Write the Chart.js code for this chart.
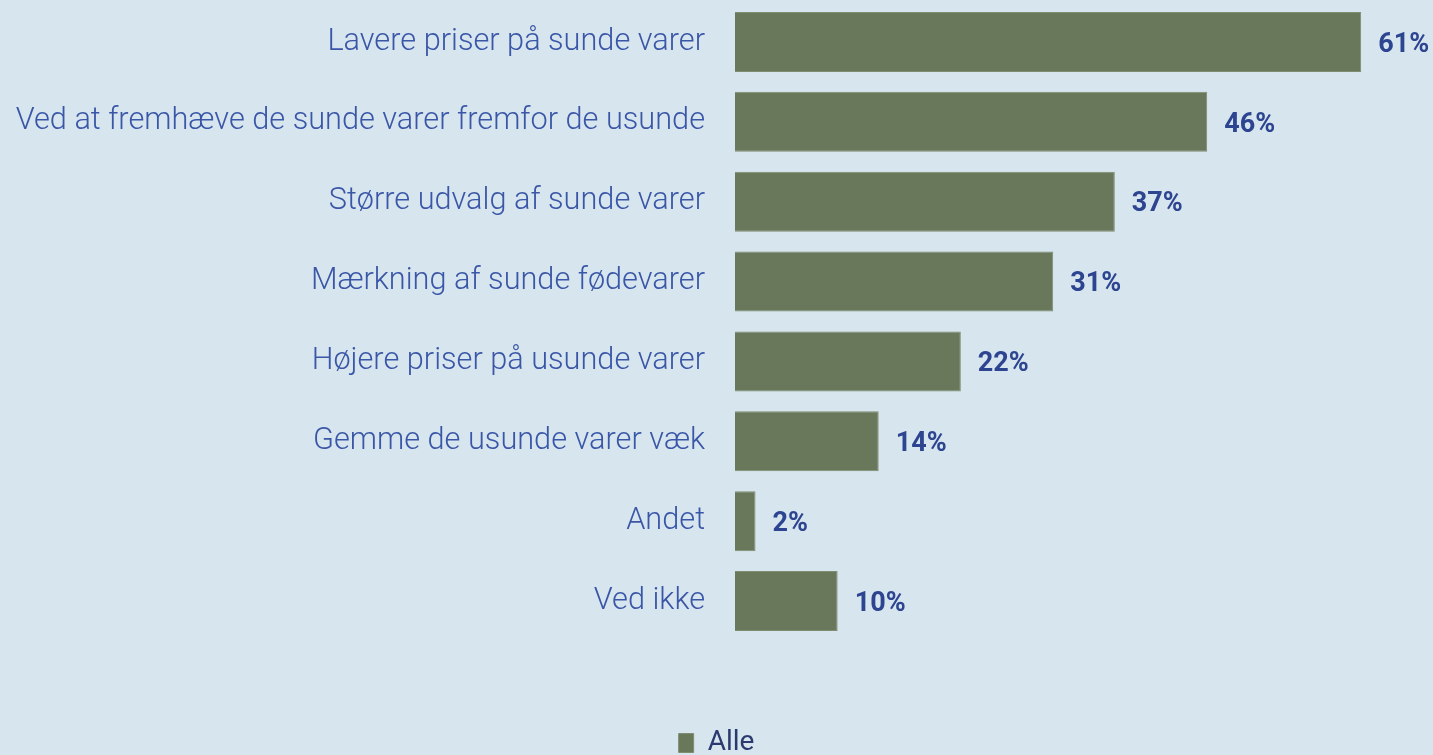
<!DOCTYPE html>
<html>
<head>
<meta charset="utf-8">
<script src="https://cdn.jsdelivr.net/npm/chart.js@4.4.1/dist/chart.umd.min.js"></script>
<style>
    html, body { margin: 0; padding: 0; background: #d7e5ef; }
    #wrap { width: 1433px; height: 755px; }
</style>
</head>
<body>
<div id="wrap">
    <canvas id="svarChart" width="1433" height="755"></canvas>
</div>

<script>
    // Kategorier og værdier (procent)
    var kategorier = [
        'Lavere priser på sunde varer',
        'Ved at fremhæve de sunde varer fremfor de usunde',
        'Større udvalg af sunde varer',
        'Mærkning af sunde fødevarer',
        'Højere priser på usunde varer',
        'Gemme de usunde varer væk',
        'Andet',
        'Ved ikke'
    ];
    var alleVaerdier = [61, 46, 37, 31, 22, 14, 2, 10];
    var serieNavn = 'Alle';

    // Plugin der skriver procenttallet til højre for hver søjle
    var vaerdiEtiketter = {
        id: 'vaerdiEtiketter',
        afterDatasetsDraw: function (chart) {
            var ctx = chart.ctx;
            var meta = chart.getDatasetMeta(0);
            ctx.save();
            ctx.fillStyle = '#2d4590';
            ctx.font = 'bold 27px Roboto';
            ctx.textAlign = 'left';
            ctx.textBaseline = 'middle';
            meta.data.forEach(function (bar, i) {
                ctx.fillText(alleVaerdier[i] + '%', bar.x + 17, bar.y + 3);
            });
            ctx.restore();
        }
    };

    var ctx = document.getElementById('svarChart').getContext('2d');
    var svarChart = new Chart(ctx, {
        type: 'bar',
        data: {
            labels: kategorier,
            datasets: [{
                label: serieNavn,
                data: alleVaerdier,
                backgroundColor: '#69775a',
                borderColor: '#7f8d70',
                borderWidth: 1,
                barPercentage: 1,
                categoryPercentage: 0.75
            }]
        },
        options: {
            indexAxis: 'y',
            responsive: false,
            animation: false,
            layout: {
                padding: { top: 2, left: 0, right: 0, bottom: -12 }
            },
            scales: {
                x: {
                    display: false,
                    min: 0,
                    max: 68
                },
                y: {
                    grid: { display: false },
                    border: { display: false },
                    ticks: {
                        color: '#3a56a6',
                        padding: 22,
                        font: { family: 'Roboto', weight: '300', size: 30.7 }
                    },
                    afterFit: function (scale) {
                        scale.width = 735;
                        // ingen ekstra luft over/under til etiketterne
                        scale.paddingTop = 0;
                        scale.paddingBottom = 0;
                    }
                }
            },
            plugins: {
                tooltip: { enabled: false },
                legend: {
                    position: 'bottom',
                    labels: {
                        color: '#2b3a6e',
                        boxWidth: 15,
                        boxHeight: 19,
                        padding: 88,
                        font: { family: 'Roboto', size: 28 }
                    }
                }
            }
        },
        plugins: [vaerdiEtiketter]
    });
</script>
</body>
</html>
